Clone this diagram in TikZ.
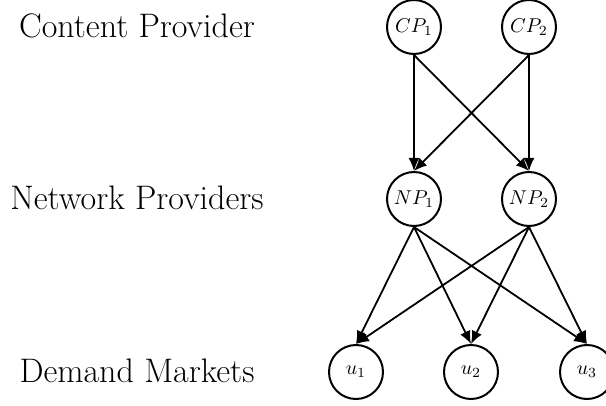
\documentclass[tikz,border=0pt]{standalone}
\usetikzlibrary{arrows.meta}
\begin{document}
\begin{tikzpicture}[x=0.5pt,y=-0.5pt,
  agent/.style={circle,draw,line width=1pt,minimum size=27pt,inner sep=0pt,font=\fontsize{10}{12}\selectfont},
  rowlabel/.style={anchor=base,font=\fontsize{17}{20}\selectfont,inner sep=0pt},
  flow/.style={line width=0.9pt,-{Latex[length=6.5pt,width=5.5pt]}}]
\useasboundingbox (0,0) rectangle (606,406);
\node[rowlabel] (lcp) at (137,38) {Content Provider};
\node[rowlabel] (lnp) at (137,210) {Network Providers};
\node[rowlabel] (ldm) at (137,383) {Demand Markets};
\node[agent] (cp1) at (414,27) {$CP_1$};
\node[agent] (cp2) at (529,27) {$CP_2$};
\node[agent] (np1) at (414,199) {$NP_1$};
\node[agent] (np2) at (529,199) {$NP_2$};
\node[agent] (u1) at (356,372) {$u_1$};
\node[agent] (u2) at (471,372) {$u_2$};
\node[agent] (u3) at (587,372) {$u_3$};
\foreach \s in {cp1,cp2}{
  \foreach \t in {np1,np2}{
    \draw[flow] (\s.south) -- (\t.north);
  }
}
\foreach \s in {np1,np2}{
  \foreach \t in {u1,u2,u3}{
    \draw[flow] (\s.south) -- (\t.north);
  }
}
\end{tikzpicture}
\end{document}
